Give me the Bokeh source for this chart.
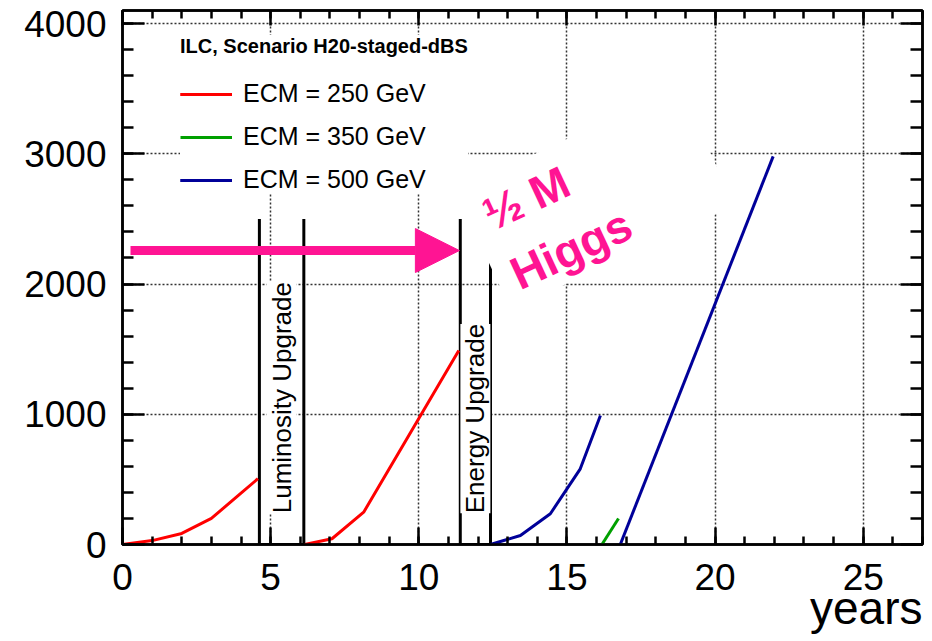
from bokeh.plotting import figure
from bokeh.models import (Label, Legend, LegendItem, LinearAxis, SingleIntervalTicker,
                          Arrow, NormalHead, Title)
from bokeh.embed import file_html
from bokeh.resources import INLINE

# ---------------- data ----------------
years_250_a = [0, 1, 2, 3, 4, 4.57]
lumi_250_a = [0, 30, 85, 200, 395, 505]
years_250_b = [6.15, 7.07, 8.14, 11.35]
lumi_250_b = [0, 44, 248, 1490]
years_350 = [16.18, 16.74]
lumi_350 = [0, 200]
years_500_a = [12.42, 13.43, 14.44, 15.45, 16.13]
lumi_500_a = [0, 69, 236, 581, 990]
years_500_b = [16.8, 21.96]
lumi_500_b = [0, 2980]

upgrade_names = ["Luminosity Upgrade", "Energy Upgrade"]
upgrade_start = [4.62, 11.40]
upgrade_end = [6.12, 12.42]
upgrade_height = 2500
upgrade_text_start = 240

arrow_years = [0.27, 11.37]
arrow_lumi = 2257
higgs_text = "\u00bd M\nHiggs"
higgs_anchor = (12.72, 2288)
higgs_mask_center = (15.95, 2659)

legend_title = "ILC, Scenario H20-staged-dBS"
legend_labels = ["ECM = 250 GeV", "ECM = 350 GeV", "ECM = 500 GeV"]
x_label = "years"
x_range = (0, 27)
y_range = (0, 4100)

RED = "#ff0000"
GREEN = "#00a000"
BLUE = "#000099"
PINK = "#ff1493"
FONT = "Liberation Sans"

p = figure(width=924, height=641, x_range=x_range, y_range=y_range,
           output_backend="svg", toolbar_location=None,
           min_border_left=122, min_border_right=2, min_border_top=10, min_border_bottom=97)
p.background_fill_color = "white"
p.border_fill_color = "white"
p.outline_line_color = "black"
p.outline_line_width = 2.5

xt = SingleIntervalTicker(interval=5, num_minor_ticks=5)
yt = SingleIntervalTicker(interval=1000, num_minor_ticks=5)
bottom_axis = p.xaxis[0]
left_axis = p.yaxis[0]
bottom_axis.ticker = xt
left_axis.ticker = yt


def style_axis(ax, maj_in, min_in, labels=True, standoff=10):
    ax.axis_line_color = "black"
    ax.axis_line_width = 2.5
    ax.major_tick_line_color = "black"
    ax.minor_tick_line_color = "black"
    ax.major_tick_line_width = 2.5
    ax.minor_tick_line_width = 2.5
    ax.major_tick_in = maj_in
    ax.major_tick_out = 0
    ax.minor_tick_in = min_in
    ax.minor_tick_out = 0
    if labels:
        ax.major_label_text_font = FONT
        ax.major_label_text_font_size = "37px"
        ax.major_label_text_color = "black"
        ax.major_label_standoff = standoff
    else:
        ax.major_label_text_font_size = "1px"
        ax.major_label_text_color = None
        ax.major_label_standoff = 0


style_axis(bottom_axis, 17, 8, True, 19)
style_axis(left_axis, 22, 11, True, 16)

top = LinearAxis(ticker=xt)
style_axis(top, 15, 8, False)
p.add_layout(top, "above")
right = LinearAxis(ticker=yt)
style_axis(right, 22, 12, False)
p.add_layout(right, "right")

# x axis title, right-aligned below the tick labels
x_title = Title(text=x_label, align="right", vertical_align="top", text_font=FONT,
                text_font_size="46px", text_font_style="normal", text_color="black",
                offset=0, standoff=-22)
p.add_layout(x_title, "below")

p.grid.grid_line_color = "#333333"
p.grid.grid_line_dash = "2 2"
p.grid.grid_line_width = 1.5

# upgrade boxes (open at top)
box_xs = [[s, s, e, e] for s, e in zip(upgrade_start, upgrade_end)]
box_ys = [[upgrade_height, 0, 0, upgrade_height] for _ in upgrade_start]
p.multi_line(box_xs, box_ys, line_color="black", line_width=3)

# data lines
r250a = p.line(years_250_a, lumi_250_a, line_color=RED, line_width=3)
r250b = p.line(years_250_b, lumi_250_b, line_color=RED, line_width=3)
r350 = p.line(years_350, lumi_350, line_color=GREEN, line_width=3)
r500a = p.line(years_500_a, lumi_500_a, line_color=BLUE, line_width=3)
r500b = p.line(years_500_b, lumi_500_b, line_color=BLUE, line_width=3)

# white mask behind the Higgs note
p.rect(x=higgs_mask_center[0], y=higgs_mask_center[1], width=247, height=131,
       width_units="screen", height_units="screen", angle=25, angle_units="deg",
       fill_color="white", line_color=None)

# texts inside upgrade boxes
for name, s, e in zip(upgrade_names, upgrade_start, upgrade_end):
    p.add_layout(Label(x=(s + e) / 2, y=upgrade_text_start, text=name, angle=90, angle_units="deg",
                       text_align="left", text_baseline="middle", text_font=FONT,
                       text_font_size="26px", text_color="black",
                       background_fill_color="white"))

# arrow
p.add_layout(Arrow(end=NormalHead(size=44, fill_color=PINK, line_color=PINK),
                   x_start=arrow_years[0], y_start=arrow_lumi,
                   x_end=arrow_years[1], y_end=arrow_lumi,
                   line_color=PINK, line_width=9))

p.add_layout(Label(x=higgs_anchor[0], y=higgs_anchor[1], text=higgs_text, angle=25, angle_units="deg",
                   text_align="left", text_baseline="middle", text_font=FONT,
                   text_font_size="46px", text_font_style="bold", text_color=PINK,
                   text_line_height=1.25))

legend = Legend(items=[LegendItem(label=legend_labels[0], renderers=[r250a, r250b]),
                       LegendItem(label=legend_labels[1], renderers=[r350]),
                       LegendItem(label=legend_labels[2], renderers=[r500a, r500b])],
                location=(58, 350), title=legend_title,
                title_text_font=FONT, title_text_font_style="bold", title_text_font_size="20px",
                title_text_color="black", title_standoff=21,
                label_text_font=FONT, label_text_font_size="25px", label_text_color="black",
                glyph_width=52, glyph_height=24, label_height=24, spacing=14,
                padding=10, label_standoff=11, margin=0,
                border_line_color=None, background_fill_color="white", background_fill_alpha=1)
p.add_layout(legend)

open("out.html", "w").write(file_html(p, INLINE))
